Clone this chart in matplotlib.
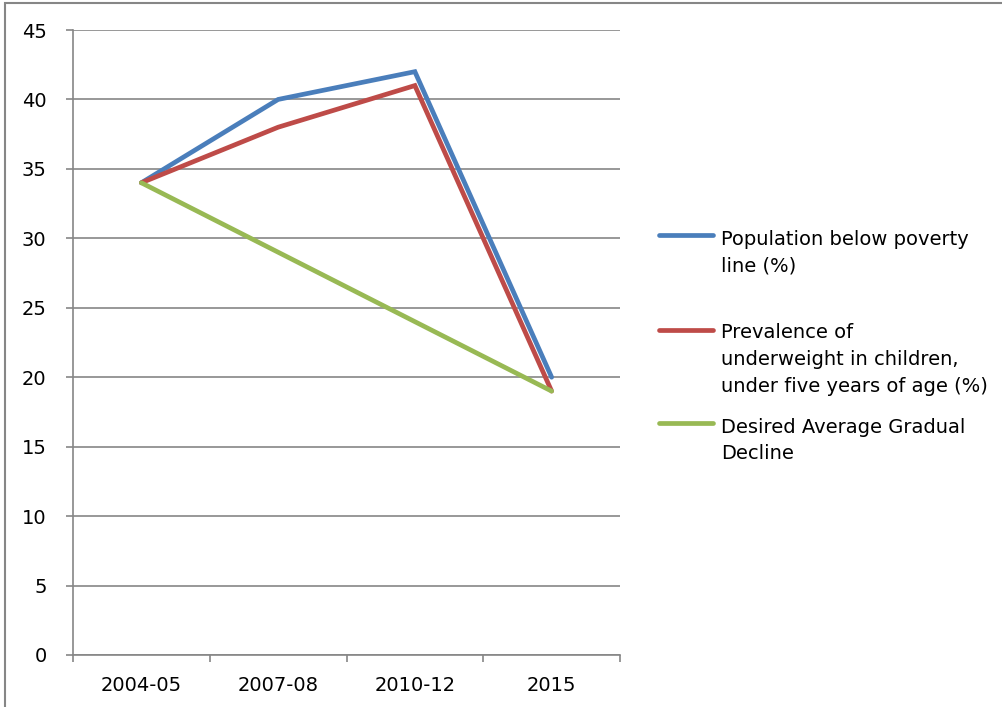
import matplotlib
matplotlib.use('Agg')
import matplotlib.pyplot as plt
from matplotlib.lines import Line2D
from matplotlib.patches import Rectangle

# data
periods = ['2004-05', '2007-08', '2010-12', '2015']
poverty = [34, 40, 42, 20]
underweight = [34, 38, 41, 19]
desired = [34, 29, 24, 19]

labels = ['Population below poverty\nline (%)',
          'Prevalence of\nunderweight in children,\nunder five years of age (%)',
          'Desired Average Gradual\nDecline']
colors = ['#4A7EBB', '#BE4B48', '#98B954']

W, H = 1002, 707
GRID = '#868686'

fig = plt.figure(figsize=(W / 100, H / 100), dpi=100)
ax = fig.add_axes([73 / W, 52 / H, (620 - 73) / W, (655 - 30) / H])

x = range(len(periods))
for vals, c in zip([poverty, underweight, desired], colors):
    ax.plot(x, vals, color=c, linewidth=3.4, solid_capstyle='round',
            solid_joinstyle='miter', zorder=3)

ax.set_xlim(-0.5, len(periods) - 0.5)
ax.set_ylim(0, 45)
ax.set_yticks(range(0, 46, 5))
ax.set_xticks(list(x))
ax.set_xticklabels(periods)
ax.set_xticks([i - 0.5 for i in range(len(periods) + 1)], minor=True)

ax.yaxis.grid(True, color=GRID, linewidth=1.2)
ax.set_axisbelow(True)
for s in ['top', 'right']:
    ax.spines[s].set_visible(False)
for s in ['left', 'bottom']:
    ax.spines[s].set_color(GRID)
    ax.spines[s].set_linewidth(1.2)

ax.tick_params(axis='y', length=5, width=1.2, color=GRID, pad=14,
               labelsize=14)
ax.tick_params(axis='x', which='major', length=0, pad=15, labelsize=14)
ax.tick_params(axis='x', which='minor', length=5, width=1.2, color=GRID)

# legend drawn by hand so the handle sits on the first text line
line_y = [235, 330, 423.3]
base_y = [245, 338.3, 432.7]
step = 26.7
for lab, c, ly, by in zip(labels, colors, line_y, base_y):
    fig.add_artist(Line2D([659 / W, 713 / W], [1 - ly / H, 1 - ly / H],
                          color=c, linewidth=3.4, solid_capstyle='round'))
    for k, part in enumerate(lab.split('\n')):
        fig.text(721 / W, 1 - (by + k * step) / H, part, fontsize=14,
                 ha='left', va='baseline')

# outer chart border
fig.add_artist(Rectangle((5 / W, -0.1), 1.2, 1.1 - 3 / H,
                         transform=fig.transFigure, fill=False,
                         edgecolor=GRID, linewidth=1.5))

fig.savefig('out.png', dpi=100)
